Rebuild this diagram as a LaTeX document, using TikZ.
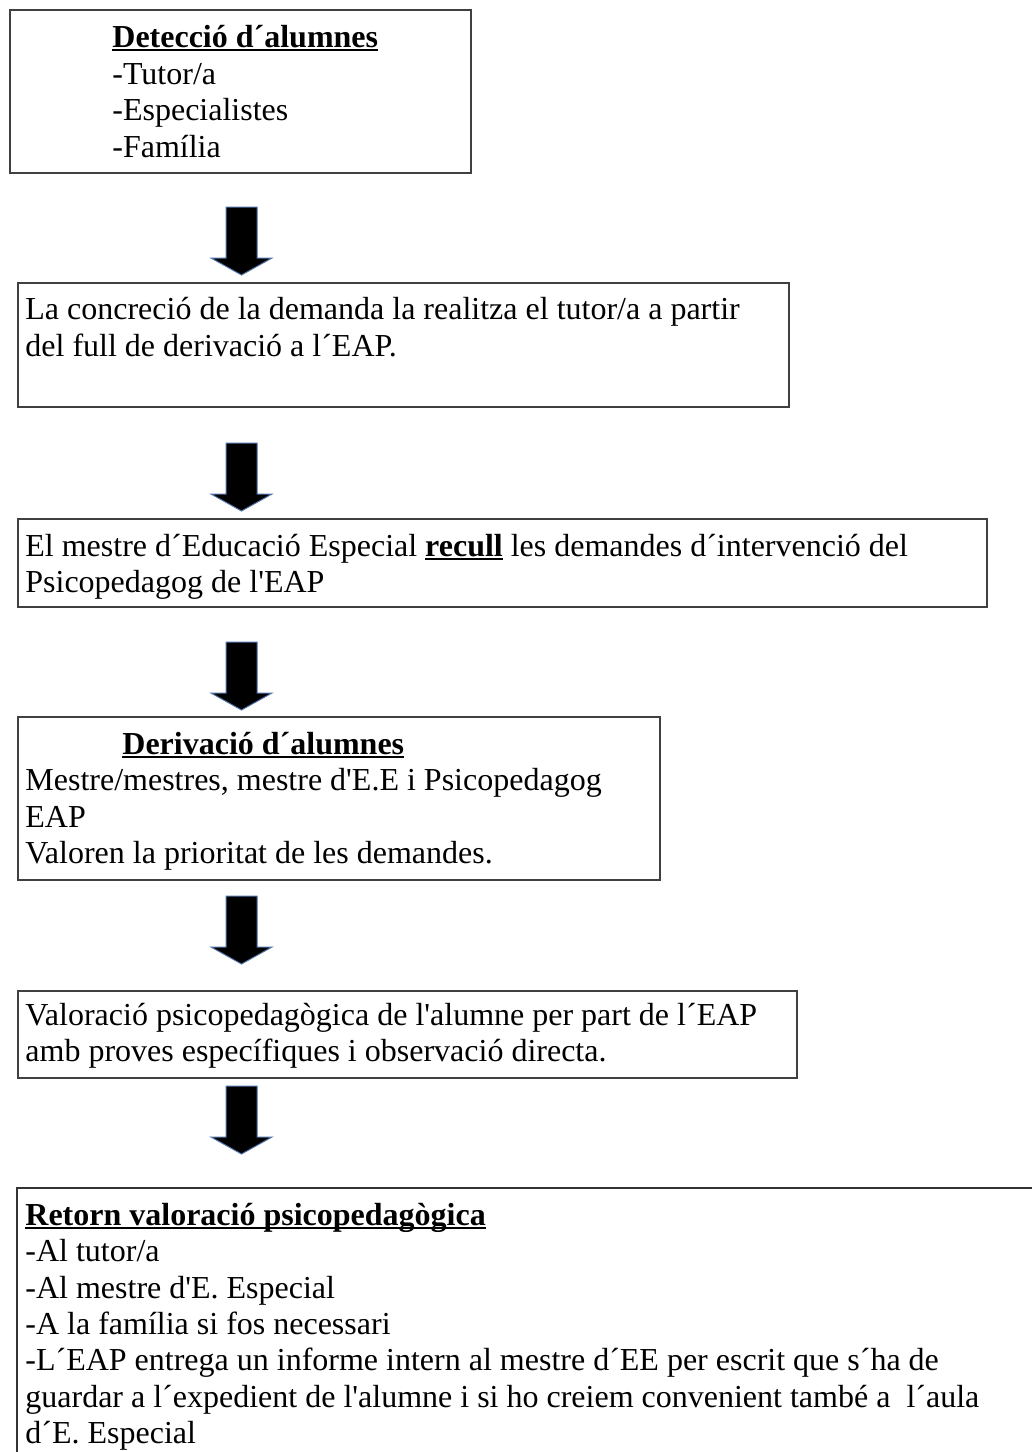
\documentclass[tikz,border=0pt]{standalone}
\usepackage{fontspec}
\setmainfont{Liberation Serif}[Ligatures=TeXOff]
\newcommand\myuline[1]{\setbox0=\hbox{#1}\rlap{\rule[-2pt]{\wd0}{0.8pt}}\box0\relax}
\definecolor{arrowblue}{RGB}{80,115,170}
\begin{document}
\begin{tikzpicture}[x=0.5pt,y=-0.5pt,
  box/.style 2 args={draw=black!75, line width=0.75pt, anchor=north west, inner sep=0,
     minimum width={#1*0.5pt}, minimum height={#2*0.5pt}},
  txt/.style={anchor=base west, inner sep=0, font=\fontsize{16pt}{18.3pt}\selectfont},
  barrow/.pic={\draw[draw=arrowblue, line width=0.5pt, fill=black]
     (-15.5,0) -- (15.5,0) -- (15.5,51) -- (30.5,51) -- (0,68) -- (-30.5,51) -- (-15.5,51) -- cycle;}
]
\useasboundingbox (0,0) rectangle (1032,1452);
\fill[white] (0,0) rectangle (1032,1452);

% Box 1
\node[box={461}{163}] (b1) at (9,9) {};
\node[txt] (t1a) at (112,47) {\myuline{\textbf{Detecció d´alumnes}}};
\node[txt] (t1b) at (112,84) {-Tutor/a};
\node[txt] (t1c) at (112,120) {-Especialistes};
\node[txt] (t1d) at (112,157) {-Família};

\pic (a1) at (241.5,207) {barrow};

% Box 2
\node[box={771}{124}] (b2) at (17,282) {};
\node[txt] (t2a) at (25,319) {La concreció de la demanda la realitza el tutor/a a partir};
\node[txt] (t2b) at (25,356) {del full de derivació a l´EAP.};

\pic (a2) at (241.5,443) {barrow};

% Box 3
\node[box={969}{88}] (b3) at (17,518) {};
\node[txt] (t3a) at (25,556) {El mestre d´Educació Especial \myuline{\textbf{recull}} les demandes d´intervenció del};
\node[txt] (t3b) at (25,592) {Psicopedagog de l'EAP};

\pic (a3) at (241.5,642) {barrow};

% Box 4
\node[box={642}{163}] (b4) at (17,716) {};
\node[txt] (t4a) at (122,754) {\myuline{\textbf{Derivació d´alumnes}}};
\node[txt] (t4b) at (25,790) {Mestre/mestres, mestre d'E.E i Psicopedagog};
\node[txt] (t4c) at (25,827) {EAP};
\node[txt] (t4d) at (25,863) {Valoren la prioritat de les demandes.};

\pic (a4) at (241.5,896) {barrow};

% Box 5
\node[box={779}{87}] (b5) at (17,990) {};
\node[txt] (t5a) at (25,1025) {Valoració psicopedagògica de l'alumne per part de l´EAP};
\node[txt] (t5b) at (25,1061) {amb proves específiques i observació directa.};

\pic (a5) at (241.5,1086) {barrow};

% Box 6 (open to the right and bottom)
\coordinate (b6bl) at (17,1452);
\coordinate (b6tl) at (17,1188);
\coordinate (b6tr) at (1032,1188);
\draw[draw=black!80, line width=0.75pt] (b6bl) -- (b6tl) -- (b6tr);
\node[txt] (t6a) at (25,1225) {\myuline{\textbf{Retorn valoració psicopedagògica}}};
\node[txt] (t6b) at (25,1261) {-Al tutor/a};
\node[txt] (t6c) at (25,1298) {-Al mestre d'E. Especial};
\node[txt] (t6d) at (25,1334) {-A la família si fos necessari};
\node[txt] (t6e) at (25,1370) {-L´EAP entrega un informe intern al mestre d´EE per escrit que s´ha de};
\node[txt] (t6f) at (25,1407) {guardar a l´expedient de l'alumne i si ho creiem convenient també a\ \ l´aula};
\node[txt] (t6g) at (25,1443) {d´E. Especial};
\end{tikzpicture}
\end{document}
